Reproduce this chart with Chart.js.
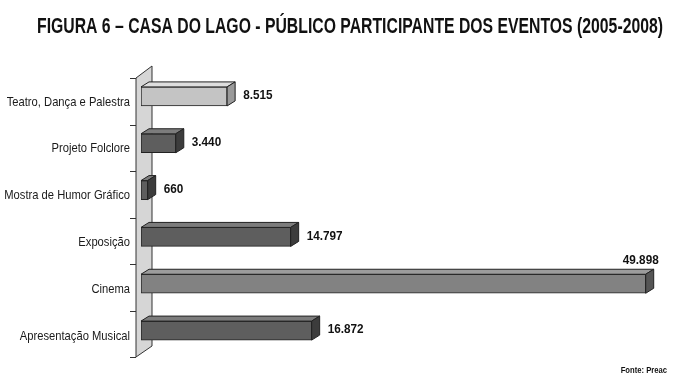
<!DOCTYPE html>
<html>
<head>
<meta charset="utf-8">
<script src="https://cdn.jsdelivr.net/npm/chart.js@4"></script>
<style>
  body { margin: 0; background: #fff; }
  canvas { display: block; }
</style>
</head>
<body>
<canvas id="myChart" width="680" height="388"></canvas>
<script>
const labels = [
    'Teatro, Dança e Palestra',
    'Projeto Folclore',
    'Mostra de Humor Gráfico',
    'Exposição',
    'Cinema',
    'Apresentação Musical',
];
const values = [8515, 3440, 660, 14797, 49898, 16872];
const valueLabels = ['8.515', '3.440', '660', '14.797', '49.898', '16.872'];

const titleText = 'FIGURA 6 – CASA DO LAGO - PÚBLICO PARTICIPANTE DOS EVENTOS (2005-2008)';
const sourceText = 'Fonte: Preac';

// front / top / side shades for each bar
const frontColors = ['#c4c4c4', '#5e5e5e', '#5e5e5e', '#5e5e5e', '#828282', '#5e5e5e'];
const topColors   = ['#dedede', '#7c7c7c', '#7c7c7c', '#7c7c7c', '#9c9c9c', '#7c7c7c'];
const sideColors  = ['#9a9a9a', '#3c3c3c', '#3c3c3c', '#3c3c3c', '#555555', '#3c3c3c'];

const FONT = '"Liberation Sans", Arial, sans-serif';
const DX = 8, DY = 5;

// draw text squeezed horizontally, like a narrow typeface
function narrowText(ctx, text, x, y, sx) {
    ctx.save();
    ctx.translate(x, y);
    ctx.scale(sx, 1);
    ctx.fillText(text, 0, 0);
    ctx.restore();
}

const decor = {
    id: 'decor',
    beforeDatasetsDraw(chart) {
        const ctx = chart.ctx;
        const a = chart.chartArea;
        const fx = a.left - 5, bx = a.left + 11;
        const top = a.top + 5, bottom = a.bottom + 3;
        ctx.save();
        // side wall
        ctx.beginPath();
        ctx.moveTo(fx, top);
        ctx.lineTo(bx, top - 12);
        ctx.lineTo(bx, bottom - 11);
        ctx.lineTo(fx, bottom);
        ctx.closePath();
        ctx.fillStyle = '#d6d6d6';
        ctx.fill();
        ctx.strokeStyle = '#333';
        ctx.lineWidth = 1;
        ctx.stroke();
        // tick marks
        ctx.beginPath();
        for (let i = 0; i <= labels.length; i++) {
            const y = Math.round(top + i * (bottom - top) / labels.length) + 0.5;
            ctx.moveTo(fx - 6, y);
            ctx.lineTo(fx, y);
        }
        ctx.stroke();

        // category labels
        const ys = chart.scales.y;
        ctx.fillStyle = '#1a1a1a';
        ctx.font = '13.5px ' + FONT;
        ctx.textAlign = 'right';
        ctx.textBaseline = 'middle';
        labels.forEach((lab, i) => {
            narrowText(ctx, lab, a.left - 11, ys.getPixelForTick(i) + 5.5, 0.83);
        });
        ctx.restore();
    },
    afterDatasetsDraw(chart) {
        const ctx = chart.ctx;
        const meta = chart.getDatasetMeta(0);
        ctx.save();
        ctx.strokeStyle = '#222';
        ctx.lineWidth = 1;
        meta.data.forEach((bar, i) => {
            const h = bar.height;
            const t = bar.y - h / 2, b = bar.y + h / 2;
            // top face
            ctx.beginPath();
            ctx.moveTo(bar.base, t);
            ctx.lineTo(bar.base + DX, t - DY);
            ctx.lineTo(bar.x + DX, t - DY);
            ctx.lineTo(bar.x, t);
            ctx.closePath();
            ctx.fillStyle = topColors[i];
            ctx.fill();
            ctx.stroke();
            // side face
            ctx.beginPath();
            ctx.moveTo(bar.x, t);
            ctx.lineTo(bar.x + DX, t - DY);
            ctx.lineTo(bar.x + DX, b - DY);
            ctx.lineTo(bar.x, b);
            ctx.closePath();
            ctx.fillStyle = sideColors[i];
            ctx.fill();
            ctx.stroke();

            // value label
            ctx.fillStyle = '#111';
            ctx.font = 'bold 13.5px ' + FONT;
            ctx.textBaseline = 'middle';
            if (values[i] > 40000) {
                ctx.textAlign = 'right';
                narrowText(ctx, valueLabels[i], bar.x + DX + 5, t - DY - 9, 0.87);
            } else {
                ctx.textAlign = 'left';
                narrowText(ctx, valueLabels[i], bar.x + DX + 8, bar.y - 1, 0.87);
            }
        });

        // title and source
        ctx.fillStyle = '#111';
        ctx.textAlign = 'center';
        ctx.textBaseline = 'middle';
        ctx.font = 'bold 22px ' + FONT;
        ctx.fillText(titleText, 350, 27, 626);
        ctx.textAlign = 'right';
        ctx.font = 'bold 9px ' + FONT;
        narrowText(ctx, sourceText, 667, 371, 0.85);
        ctx.restore();
    }
};

const data = {
    labels: labels,
    datasets: [{
        data: values,
        backgroundColor: frontColors,
        borderColor: '#222',
        borderWidth: 1,
        borderSkipped: false,
        barThickness: 19,
    }]
};

const config = {
    type: 'bar',
    data: data,
    options: {
        indexAxis: 'y',
        responsive: false,
        animation: false,
        layout: {
            padding: { top: 73, bottom: 34, left: 0, right: 11 }
        },
        plugins: {
            legend: { display: false },
            tooltip: { enabled: false },
        },
        scales: {
            x: {
                display: false,
                min: 0,
                max: 52200,
            },
            y: {
                afterFit(scale) { scale.width = 141; },
                grid: { display: false },
                border: { display: false },
                ticks: { display: false }
            }
        }
    },
    plugins: [decor]
};

const myChart = new Chart(document.getElementById('myChart'), config);
</script>
</body>
</html>
